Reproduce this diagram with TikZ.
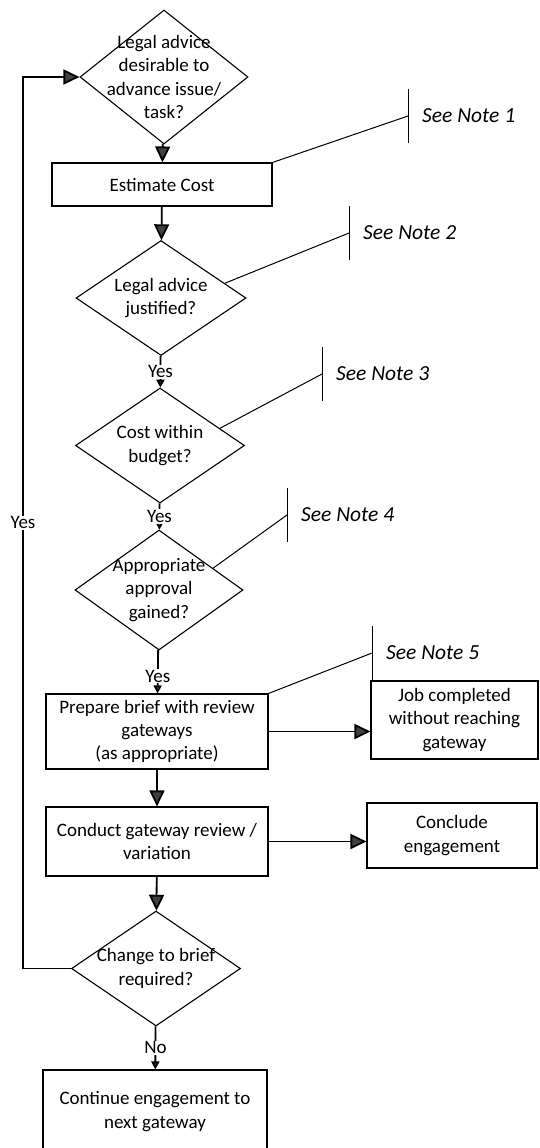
\documentclass[tikz,border=0pt]{standalone}
\usepackage{fontspec}
\setmainfont{Carlito}
\usepackage{tikz}
\usetikzlibrary{arrows.meta, positioning, shapes.geometric}
\tikzset{
    boite/.style={draw, rectangle, line width=1.1pt, align=center, inner sep=0pt},
    losange/.style={draw, diamond, line width=1.1pt, inner sep=0pt},
    dedans/.style={align=center, inner sep=0pt},
    fleche/.style={-{Triangle[length=16pt, width=15pt, fill=black!75]}, line width=1.8pt},
    fleche courte/.style={-{Triangle[length=8pt, width=8pt, fill=black!75]}, line width=1.8pt},
    renvoi/.style={line width=1pt},
    etiquette/.style={fill=white, inner sep=1pt},
    mention/.style={font=\fontsize{21.5}{25}\selectfont\itshape, anchor=west, inner sep=0pt},
}
\begin{document}
\begin{tikzpicture}[x=1pt, y=-1pt, font=\fontsize{19}{23.3}\selectfont]
\useasboundingbox (0,0) rectangle (539,1148);
% colonne principale
\node[losange, minimum width=168pt, minimum height=134pt, label={[dedans]center:Legal advice\\desirable to\\advance issue/\\task?}] (d1) at (164,77) {};
\node[boite, minimum width=220pt, minimum height=43pt] (estim) at (162,184.5) {Estimate Cost};
\node[losange, minimum width=170pt, minimum height=115pt, label={[dedans]center:Legal advice\\justified?}] (d2) at (161,298) {};
\node[losange, minimum width=169pt, minimum height=115pt, label={[dedans]center:Cost within\\budget?}] (d3) at (160,445.5) {};
\node[losange, minimum width=168pt, minimum height=120pt, label={[dedans]center:Appropriate\\approval\\gained?}] (d4) at (159,590) {};
\node[boite, minimum width=222pt, minimum height=75pt] (brief) at (157,731.5) {Prepare brief with review\\gateways\\(as appropriate)};
\node[boite, minimum width=222pt, minimum height=69pt] (revue) at (157,841.5) {Conduct gateway review /\\variation};
\node[losange, minimum width=169pt, minimum height=115pt, label={[dedans]center:Change to brief\\required?}] (d5) at (156,968.5) {};
\node[boite, minimum width=224pt, minimum height=83pt] (suite) at (155,1111.5) {Continue engagement to\\next gateway};
% colonne de droite
\node[boite, minimum width=167pt, minimum height=78pt] (fini) at (454.5,720) {Job completed\\without reaching\\gateway};
\node[boite, minimum width=170pt, minimum height=65pt] (fin) at (452,835.5) {Conclude\\engagement};
% renvois aux notes
\foreach \n/\x/\y in {1/408/116, 2/349/233, 3/322/374, 4/287/515, 5/372/653} {
    \coordinate (b\n) at (\x,\y);
    \draw[renvoi] (\x,\y-27) -- (\x,\y+27);
    \node[mention] (note\n) at (\x+14,\y) {See Note \n};
}
\draw[renvoi] (estim.north east) -- (b1);
\draw[renvoi] (d2.13) -- (b2);
\draw[renvoi] (d3.16) -- (b3);
\draw[renvoi] (d4.22) -- (b4);
\draw[renvoi] (brief.north east) -- (b5);
% fleches
\draw[fleche] (d1) -- (estim);
\draw[fleche] (estim) -- (d2);
\draw[fleche courte] (d2) -- node[etiquette] {Yes} (d3);
\draw[fleche courte] (d3) -- node[etiquette] {Yes} (d4);
\draw[fleche courte] (d4) -- node[etiquette, pos=0.6] {Yes} (brief);
\draw[fleche] (brief) -- (revue);
\draw[fleche] (revue) -- (d5);
\draw[fleche courte] (d5) -- node[etiquette] {No} (suite);
\draw[fleche] (brief.east) -- (brief.east -| fini.west);
\draw[fleche] (revue.east) -- (revue.east -| fin.west);
% retour
\coordinate (boucle) at (23,500);
\draw[fleche] (d5.west) -- (d5.west -| boucle) |- node[etiquette, pos=0.25] {Yes} (d1.west);
\end{tikzpicture}
\end{document}
